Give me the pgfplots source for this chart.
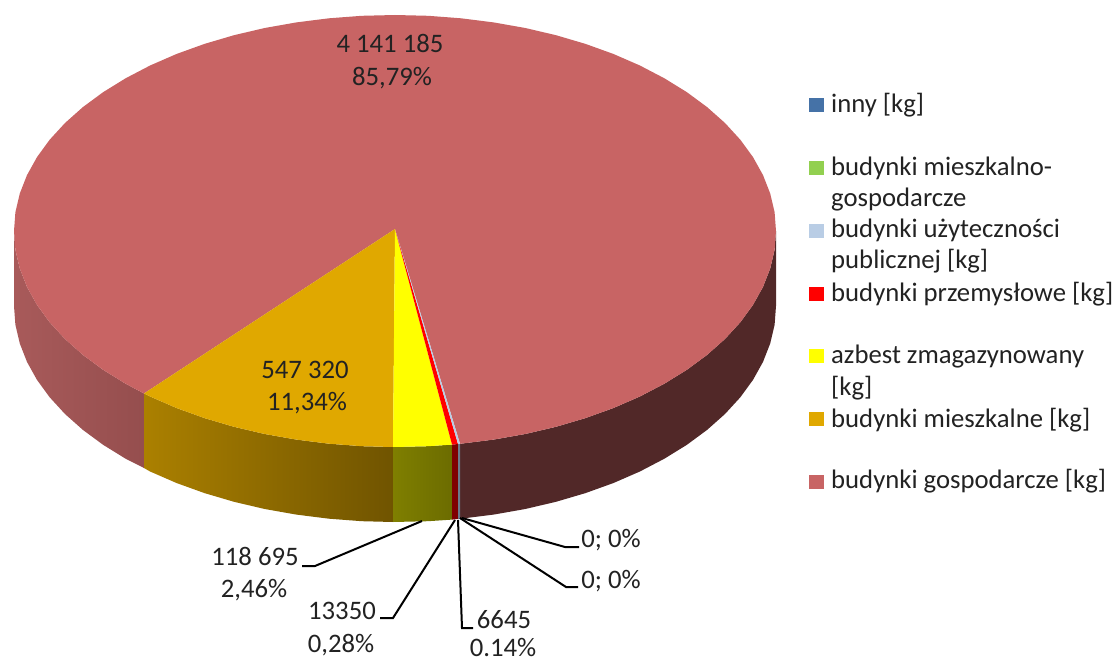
\documentclass[border=0pt]{standalone}
\usepackage{pgfplots}
\pgfplotsset{compat=1.18}
\usepackage{fontspec}
\setmainfont{Carlito}
\definecolor{topred}{HTML}{C86464}
\definecolor{toporange}{HTML}{E0A800}
\definecolor{topyellow}{HTML}{FFFF00}
\definecolor{topblue}{HTML}{B9CDE5}
\definecolor{txt}{HTML}{222222}
\tikzset{lbl/.style={font=\fontsize{26.7pt}{30pt}\selectfont,text=txt,inner sep=0pt,anchor=base},
         lgd/.style={font=\fontsize{26.7pt}{30pt}\selectfont,text=txt,inner sep=0pt,anchor=base west}}
\begin{document}
\begin{tikzpicture}
\path[use as bounding box] (0,0) rectangle (1117pt,661pt);
\begin{axis}[at={(0,0)},anchor=south west,scale only axis,width=1117pt,height=661pt,
  xmin=0,xmax=1117,ymin=0,ymax=661,y dir=reverse,hide axis,clip=false]
% sides
\addplot[draw=none,fill={rgb,255:red,81;green,40;blue,40}] coordinates {(460,443.8)(493.6,439.6)(525.3,434)(556,426.8)(585.5,418.1)(613.5,408)(639.9,396.5)(664.4,383.7)(686.9,369.8)(707.1,354.9)(725,339)(740.3,322.3)(753,304.9)(763,286.9)(770.2,268.5)(774.6,249.8)(776,231)
 (776,306)(774.6,324.8)(770.2,343.5)(763,361.9)(753,379.9)(740.3,397.3)(725,414)(707.1,429.9)(686.9,444.8)(664.4,458.7)(639.9,471.5)(613.5,483)(585.5,493.1)(556,501.8)(525.3,509)(493.6,514.6)(460,518.8)};
\addplot[draw=none,left color={rgb,255:red,168;green,90;blue,90},right color={rgb,255:red,149;green,78;blue,78}] coordinates {(144,393.5)(125.6,383.7)(103.1,369.8)(82.9,354.9)(65,339)(49.7,322.3)(37,304.9)(27,286.9)(19.8,268.5)(15.4,249.8)(14,231)
 (14,306)(15.4,324.8)(19.8,343.5)(27,361.9)(37,379.9)(49.7,397.3)(65,414)(82.9,429.9)(103.1,444.8)(125.6,458.7)(144,468)};
\addplot[draw=none,left color={rgb,255:red,171;green,128;blue,0},right color={rgb,255:red,112;green,84;blue,0}] coordinates {(144,393.5)(150.1,396.5)(176.5,408)(204.5,418.1)(234,426.8)(264.7,434)(296.4,439.6)(328.9,443.7)(361.8,446.2)(393,447)
 (393,522)(361.8,521.2)(328.9,518.7)(296.4,514.6)(264.7,509)(234,501.8)(204.5,493.1)(176.5,483)(150.1,471.5)(144,468)};
\addplot[draw=none,left color={rgb,255:red,127;green,127;blue,0},right color={rgb,255:red,108;green,108;blue,0}] coordinates {(393,447)(428.2,446.2)(452,444.6)(452,519.6)(428.2,521.2)(393,522)};
\addplot[draw=none,fill={rgb,255:red,127;green,0;blue,0}] coordinates {(452,444.6)(458,444)(458,519)(452,519.6)};
\addplot[draw=none,fill={rgb,255:red,106;green,122;blue,140}] coordinates {(458,444)(460,443.8)(460,518.8)(458,519)};
% tops
\addplot[draw=none,fill=topred] coordinates {(395,229)(460,443.8)(461.1,443.7)(493.6,439.6)(525.3,434)(556,426.8)(585.5,418.1)(613.5,408)(639.9,396.5)(664.4,383.7)(686.9,369.8)(707.1,354.9)(725,339)(740.3,322.3)(753,304.9)(763,286.9)(770.2,268.5)(774.6,249.8)(776,231)(774.6,212.2)(770.2,193.5)(763,175.1)(753,157.1)(740.3,139.7)(725,123)(707.1,107.1)(686.9,92.2)(664.4,78.3)(639.9,65.5)(613.5,54)(585.5,43.9)(556,35.2)(525.3,28)(493.6,22.4)(461.1,18.3)(428.2,15.8)(395,15)(361.8,15.8)(328.9,18.3)(296.4,22.4)(264.7,28)(234,35.2)(204.5,43.9)(176.5,54)(150.1,65.5)(125.6,78.3)(103.1,92.2)(82.9,107.1)(65,123)(49.7,139.7)(37,157.1)(27,175.1)(19.8,193.5)(15.4,212.2)(14,231)(15.4,249.8)(19.8,268.5)(27,286.9)(37,304.9)(49.7,322.3)(65,339)(82.9,354.9)(103.1,369.8)(125.6,383.7)(144,393.5)};
\addplot[draw=none,fill=toporange] coordinates {(395,229)(144,393.5)(150.1,396.5)(176.5,408)(204.5,418.1)(234,426.8)(264.7,434)(296.4,439.6)(328.9,443.7)(361.8,446.2)(393,447)};
\addplot[draw=none,fill=topyellow] coordinates {(395,229)(393,447)(428.2,446.2)(452,444.6)};
\addplot[draw=none,fill=red] coordinates {(395,229)(452,444.6)(458,444)};
\addplot[draw=none,fill=topblue] coordinates {(395,229)(458,444)(460,443.8)};
% leader lines
\addplot[black,line width=2pt] coordinates {(422,521)(315,566)(302,566)};
\addplot[black,line width=2pt] coordinates {(455,520)(393,618)(380,618)};
\addplot[black,line width=2pt] coordinates {(458,520)(462,628)(473,628)};
\addplot[black,line width=2pt] coordinates {(460,518)(566,587)(578,587)};
\addplot[black,line width=2pt] coordinates {(462,518)(565,547)(579,547)};
% legend swatches
\addplot[draw=none,fill={rgb,255:red,69;green,114;blue,167}] coordinates {(809,98)(824,98)(824,112)(809,112)};
\addplot[draw=none,fill={rgb,255:red,146;green,208;blue,80}] coordinates {(809,161)(824,161)(824,175)(809,175)};
\addplot[draw=none,fill=topblue] coordinates {(809,224)(824,224)(824,238)(809,238)};
\addplot[draw=none,fill=red] coordinates {(809,287)(824,287)(824,301)(809,301)};
\addplot[draw=none,fill=topyellow] coordinates {(809,349)(824,349)(824,363)(809,363)};
\addplot[draw=none,fill=toporange] coordinates {(809,412)(824,412)(824,426)(809,426)};
\addplot[draw=none,fill=topred] coordinates {(809,475)(824,475)(824,489)(809,489)};
% data labels
\node[lbl] at (axis cs:390,53) {4 141 185};
\node[lbl] at (axis cs:392,85) {85,79\%};
\node[lbl] at (axis cs:305,378) {547 320};
\node[lbl] at (axis cs:307,410) {11,34\%};
\node[lbl] at (axis cs:255,565) {118 695};
\node[lbl] at (axis cs:254,597) {2,46\%};
\node[lbl] at (axis cs:342,619) {13350};
\node[lbl] at (axis cs:341,652) {0,28\%};
\node[lbl] at (axis cs:504,628) {6645};
\node[lbl] at (axis cs:503,656) {0.14\%};
\node[lbl] at (axis cs:611,547) {0; 0\%};
\node[lbl] at (axis cs:611,588) {0; 0\%};
% legend text
\node[lgd] at (axis cs:831,112) {inny [kg]};
\node[lgd] at (axis cs:831,175) {budynki mieszkalno-};
\node[lgd] at (axis cs:831,206) {gospodarcze};
\node[lgd] at (axis cs:831,237) {budynki użyteczności};
\node[lgd] at (axis cs:831,268) {publicznej [kg]};
\node[lgd] at (axis cs:831,301) {budynki przemysłowe [kg]};
\node[lgd] at (axis cs:831,363) {azbest zmagazynowany};
\node[lgd] at (axis cs:831,395) {[kg]};
\node[lgd] at (axis cs:831,427) {budynki mieszkalne [kg]};
\node[lgd] at (axis cs:831,488) {budynki gospodarcze [kg]};
\end{axis}
\end{tikzpicture}
\end{document}
